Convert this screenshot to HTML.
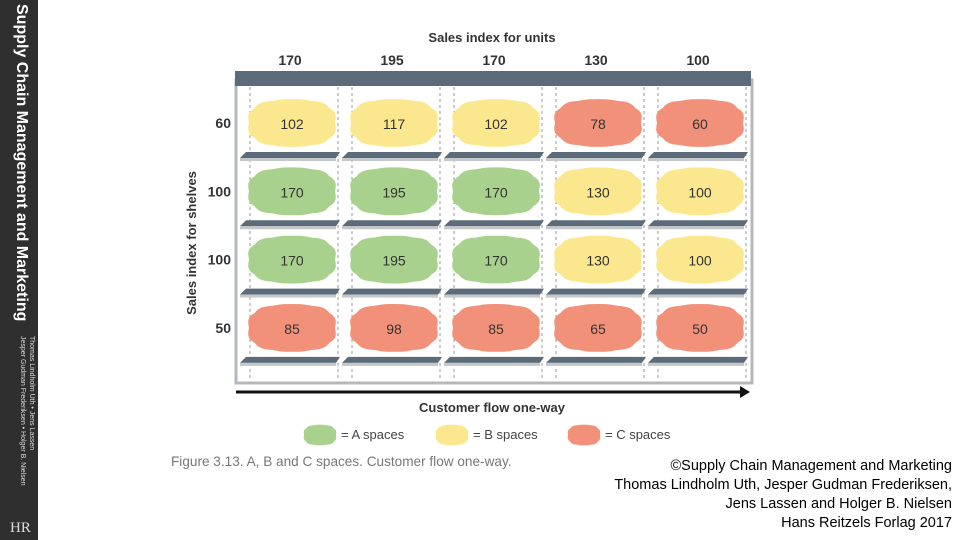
<!DOCTYPE html>
<html><head><meta charset="utf-8"><style>
body{margin:0;width:960px;height:540px;background:#fff;overflow:hidden;font-family:"Liberation Sans",sans-serif;position:relative}
#side{position:absolute;left:0;top:0;width:38px;height:540px;background:#2f2f2f}
.credit{position:absolute;right:8px;top:457px;text-align:right;font-size:14.5px;line-height:19px;color:#000}
</style></head><body>
<div id="side">
<div style="position:absolute;left:30px;top:4px;transform-origin:0 0;transform:rotate(90deg);color:#fff;font-size:16px;font-weight:bold;white-space:nowrap">Supply Chain Management and Marketing</div>
<div style="position:absolute;left:36px;top:336px;transform-origin:0 0;transform:rotate(90deg);color:#ddd;font-size:7px;line-height:9px;white-space:nowrap">Thomas Lindholm Uth • Jens Lassen<br>Jesper Gudman Frederiksen • Holger B. Nielsen</div>
<div style="position:absolute;left:10px;top:520px;color:#ddd;font-family:'Liberation Serif',serif;font-size:15px">HR</div>
</div>
<svg id="chart" width="960" height="540" style="position:absolute;left:0;top:0"></svg>
<div class="credit">©Supply Chain Management and Marketing<br>Thomas Lindholm Uth, Jesper Gudman Frederiksen,<br>Jens Lassen and Holger B. Nielsen<br>Hans Reitzels Forlag 2017</div>
<script>
const colIdx=[170,195,170,130,100];
const rowIdx=[60,100,100,50];
const cellValues=[[102,117,102,78,60],[170,195,170,130,100],[170,195,170,130,100],[85,98,85,65,50]];
const cellClass=[["B","B","B","C","C"],["A","A","A","B","B"],["A","A","A","B","B"],["C","C","C","C","C"]];
const legendLabels=["= A spaces","= B spaces","= C spaces"];
const legendClasses=["A","B","C"];
const fills={A:"#a9d18e",B:"#fbe78e",C:"#f2917a"};
const NS="http://www.w3.org/2000/svg";
const svg=document.getElementById('chart');
function mk(t,a,p){const e=document.createElementNS(NS,t);for(const k in a)e.setAttribute(k,a[k]);(p||svg).appendChild(e);return e;}
const colX=i=>290+i*102;
const rowY=j=>123+j*68.3;
function cloud(cx,cy,w,h,fill){
  let d="";const n=72;
  for(let k=0;k<=n;k++){const a=k/n*2*Math.PI;const r=1+0.04*Math.abs(Math.sin(a*5));
  const c=Math.cos(a),s=Math.sin(a);
  const sx=Math.sign(c)*Math.pow(Math.abs(c),0.7),sy=Math.sign(s)*Math.pow(Math.abs(s),0.8);
  const x=cx+sx*w/2*r,y=cy+sy*h/2*r;d+=(k?"L":"M")+x.toFixed(1)+","+y.toFixed(1);}
  return mk('path',{d:d+"Z",fill:fill});
}
let e=mk('rect',{x:236,y:80,width:516,height:303,fill:"none",stroke:"#b5b8bb","stroke-width":3});

e=mk('rect',{x:235,y:71,width:516,height:15,fill:"#5b6b7a"});

colIdx.forEach((v,i)=>{[colX(i)-40,colX(i)+48].forEach(x=>{const l=mk('line',{x1:x,y1:87,x2:x,y2:380,stroke:"#999","stroke-dasharray":"3,3","stroke-width":1});});});
rowIdx.forEach((v,j)=>{const y=rowY(j)+29;colIdx.forEach((c,i)=>{const x=colX(i)-50;const s=mk('polygon',{points:`${x+6},${y} ${x+100},${y} ${x+96},${y+6} ${x},${y+6}`,fill:"#5b6b7a"});mk('rect',{x:x,y:y+6,width:96,height:3,fill:"#c5c8cb"});});});
cellValues.forEach((row,j)=>row.forEach((v,i)=>{const c=cloud(colX(i)+2,rowY(j),86,46,fills[cellClass[j][i]]);
const t=mk('text',{x:colX(i)+2,y:rowY(j)+6,"text-anchor":"middle","font-size":14,fill:"#333"});t.textContent=v;}));
colIdx.forEach((v,i)=>{const t=mk('text',{x:colX(i),y:65,"text-anchor":"middle","font-size":14,"font-weight":"bold",fill:"#333"});t.textContent=v;});
rowIdx.forEach((v,j)=>{const t=mk('text',{x:231,y:rowY(j)+5,"text-anchor":"end","font-size":14,"font-weight":"bold",fill:"#333"});t.textContent=v;});
e=mk('text',{x:492,y:42,"text-anchor":"middle","font-size":13,"font-weight":"bold",fill:"#333"});e.textContent="Sales index for units";

e=mk('text',{x:0,y:0,transform:"translate(196,243) rotate(-90)","text-anchor":"middle","font-size":13,"font-weight":"bold",fill:"#333"});e.textContent="Sales index for shelves";

e=mk('line',{x1:236,y1:392,x2:742,y2:392,stroke:"#111","stroke-width":3});

mk('polygon',{points:"740,386 750,392 740,398",fill:"#111"});
e=mk('text',{x:492,y:412,"text-anchor":"middle","font-size":13,"font-weight":"bold",fill:"#333"});e.textContent="Customer flow one-way";

legendLabels.forEach((l,k)=>{const x=320+k*132;const c=cloud(x,435,32,20,fills[legendClasses[k]]);
const t=mk('text',{x:x+21,y:439,"font-size":13,fill:"#444"});t.textContent=l;});
e=mk('text',{x:171,y:466,"font-size":13.6,fill:"#777"});e.textContent="Figure 3.13. A, B and C spaces. Customer flow one-way.";

</script>
</body></html>
